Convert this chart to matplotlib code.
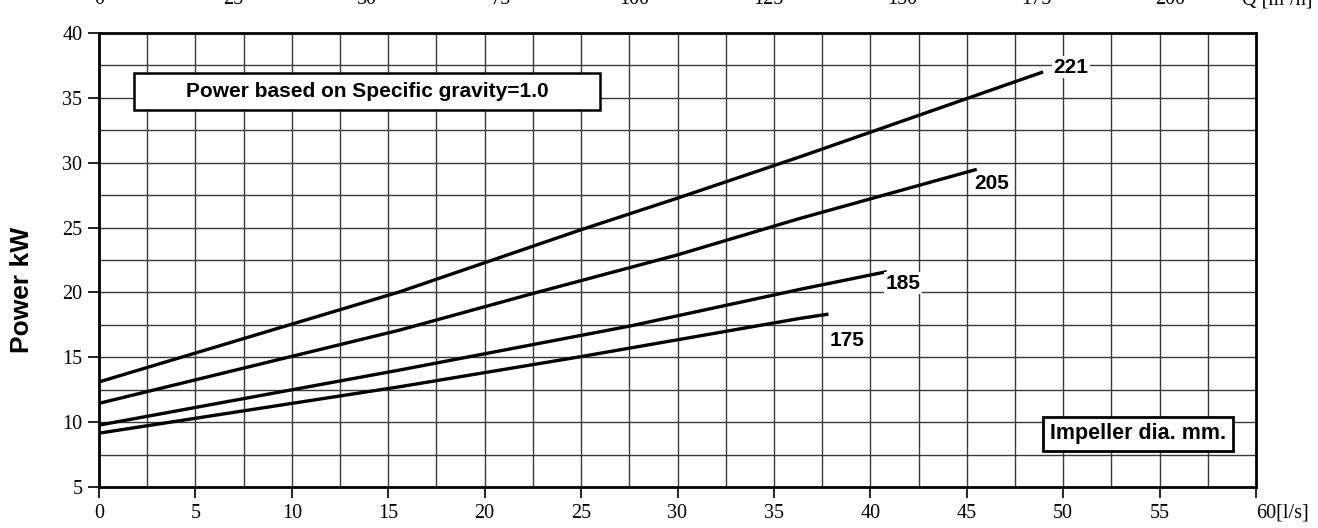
import matplotlib
matplotlib.use("Agg")
import matplotlib.pyplot as plt
from matplotlib.patches import Rectangle
from matplotlib.transforms import blended_transform_factory

# ---- data ----
q_221 = [0, 15.6, 24.95, 29.96, 36.36, 48.96]
p_221 = [13.1, 20.05, 24.81, 27.25, 30.46, 37.0]
q_205 = [0, 15.6, 22.53, 29.96, 36.36, 45.52]
p_205 = [11.45, 17.10, 19.93, 22.88, 25.71, 29.49]
q_185 = [0, 15.6, 27.54, 36.36, 40.85]
p_185 = [9.77, 14.02, 17.41, 20.24, 21.60]
q_175 = [0, 15.6, 24.95, 36.36, 37.83]
p_175 = [9.15, 12.73, 15.04, 18.0, 18.33]

curve_names = ["221", "205", "185", "175"]
label_pos = {"221": (50.4, 37.35), "205": (46.3, 28.4), "185": (41.7, 20.7), "175": (38.8, 16.3)}

x_ticks = [0, 5, 10, 15, 20, 25, 30, 35, 40, 45, 50, 55, 60]
x_tick_labels = ["0", "5", "10", "15", "20", "25", "30", "35", "40", "45", "50", "55", "60[l/s]"]
y_ticks = [5, 10, 15, 20, 25, 30, 35, 40]
top_ticks_m3h = [0, 25, 50, 75, 100, 125, 150, 175, 200]

serif = "Liberation Serif"
sans = "Liberation Sans"

W, H = 1318, 528
fig = plt.figure(figsize=(W / 100, H / 100), dpi=100)
ax = fig.add_axes([99 / W, 1 - 487 / H, (1256 - 99) / W, (487 - 33) / H])

ax.set_xlim(0, 60)
ax.set_ylim(5, 40)

# grid every 2.5
for gx in [i * 2.5 for i in range(1, 24)]:
    ax.axvline(gx, color="#3a3a3a", lw=1.0, zorder=1)
for gy in [5 + i * 2.5 for i in range(1, 14)]:
    ax.axhline(gy, color="#3a3a3a", lw=1.0, zorder=1)

for q, p in [(q_221, p_221), (q_205, p_205), (q_185, p_185), (q_175, p_175)]:
    ax.plot(q, p, color="black", lw=2.4, solid_capstyle="butt", zorder=3)

for name in curve_names:
    x, y = label_pos[name]
    ax.text(x, y, name, fontsize=15, fontweight="bold", family=sans,
            ha="center", va="center", zorder=4,
            bbox=dict(facecolor="white", edgecolor="none", pad=1.0))

ax.set_xticks(x_ticks)
ax.set_xticklabels(x_tick_labels, family=serif, fontsize=14.5)
ax.set_yticks(y_ticks)
ax.set_yticklabels([str(v) for v in y_ticks], family=serif, fontsize=14.5)
ax.tick_params(direction="out", length=8, width=1.2, pad=4)
for lbl in ax.get_xticklabels():
    if lbl.get_text().startswith("60"):
        lbl.set_horizontalalignment("left")
        lbl.set_x(59.7)

for s in ax.spines.values():
    s.set_linewidth(2.0)

fig.text(22 / W, 1 - 290 / H, "Power kW", family=sans, fontsize=19, fontweight="bold",
         rotation=90, ha="center", va="center")

# title box
ax.add_patch(Rectangle((0.0302, 0.830), 0.433 - 0.0302, 0.912 - 0.830, transform=ax.transAxes,
                       facecolor="white", edgecolor="black", linewidth=1.8, zorder=5))
ax.text(0.2316, 0.871, "Power based on Specific gravity=1.0", transform=ax.transAxes,
        family=sans, fontsize=15, fontweight="bold", ha="center", va="center", zorder=6)

# legend title box
ax.add_patch(Rectangle((0.816, 0.0793), 0.980 - 0.816, 0.154 - 0.0793, transform=ax.transAxes,
                       facecolor="white", edgecolor="black", linewidth=2.0, zorder=5))
ax.text(0.898, 0.117, "Impeller dia. mm.", transform=ax.transAxes,
        family=sans, fontsize=15.5, fontweight="bold", ha="center", va="center", zorder=6)

# cut-off top axis labels (m3/h)
tr = blended_transform_factory(ax.transData, fig.transFigure)
for v in top_ticks_m3h:
    ax.text(v / 3.6, 1 - 4 / H, str(v), transform=tr, family=serif, fontsize=14.5,
            ha="center", va="baseline", clip_on=False)
ax.text(1242 / W, 1 - 4 / H, "Q [m³/h]", transform=fig.transFigure, family=serif,
        fontsize=14.5, ha="left", va="baseline")

fig.savefig("out.png", dpi=100)
